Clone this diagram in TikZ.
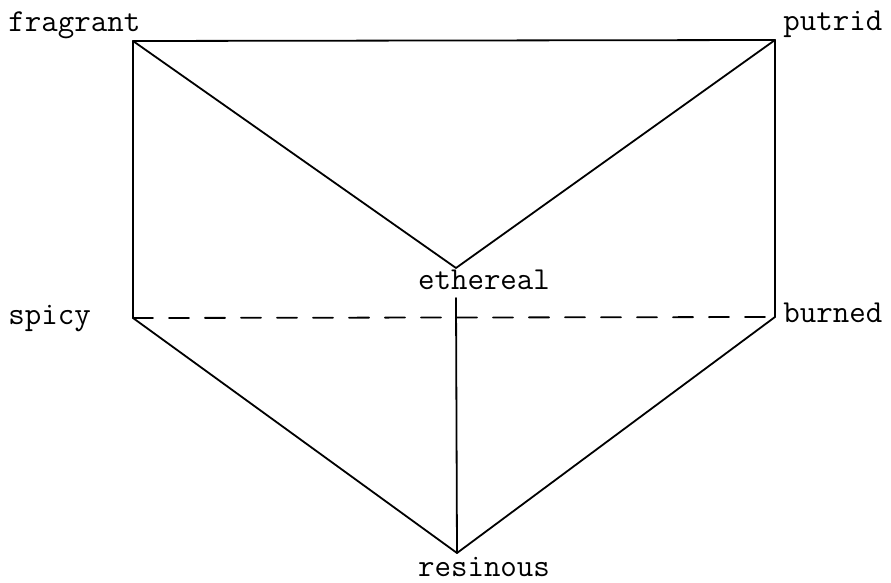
\documentclass[tikz,border=0pt]{standalone}
\usepackage{tikz}
\usetikzlibrary{positioning}

\begin{document}
\begin{tikzpicture}[
    x=0.5pt, y=-0.5pt,
    word/.style = {inner sep=0pt, font=\ttfamily\fontsize{16}{18}\selectfont},
    edge/.style = {line width=0.9pt, line cap=round, line join=round},
    hidden/.style = {edge, dash pattern=on 10pt off 8pt}
]
    \useasboundingbox (0,0) rectangle (891,583);

    % Corners of the prism
    \coordinate (frag) at (133,41);
    \coordinate (putr) at (775,40);
    \coordinate (eth) at (456,268);
    \coordinate (ethlow) at (456,298);
    \coordinate (spic) at (133,318);
    \coordinate (burn) at (775,317);
    \coordinate (res) at (457,553);

    % Labels
    \node (lfrag) [word, anchor=base west] at (8,32) {fragrant};
    \node (lputr) [word, anchor=base west] at (783,31) {putrid};
    \node (leth) [word, anchor=base] at (484,290) {ethereal};
    \node (lspic) [word, anchor=base west] at (8,325) {spicy};
    \node (lburn) [word, anchor=base west] at (783,323) {burned};
    \node (lres) [word, anchor=base] at (484,576) {resinous};

    % Edges
    \draw [edge] (frag) -- (putr);
    \draw [edge] (frag) -- (eth);
    \draw [edge] (putr) -- (eth);
    \draw [edge] (frag) -- (spic);
    \draw [edge] (putr) -- (burn);
    \draw [edge] (spic) -- (res);
    \draw [edge] (burn) -- (res);
    \draw [edge] (ethlow) -- (res);
    \draw [hidden] (spic) -- (burn);

\end{tikzpicture}
\end{document}
